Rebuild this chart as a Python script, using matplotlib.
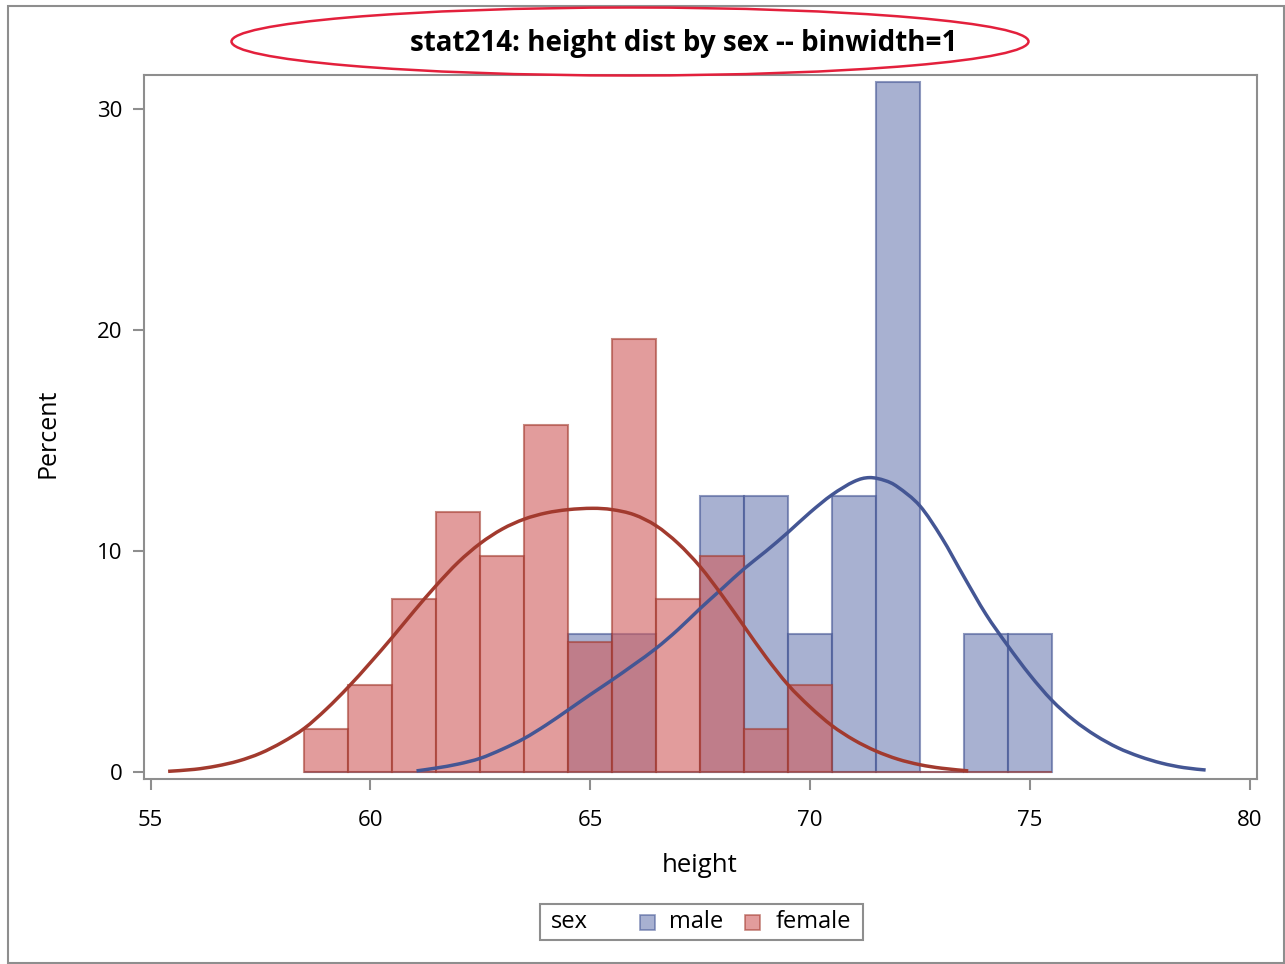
import matplotlib
matplotlib.use("Agg")
import matplotlib.pyplot as plt
from matplotlib.patches import Rectangle, Ellipse, PathPatch
from matplotlib.path import Path

# bin centres (binwidth = 1) and percent per bin
bin_mid = [59, 60, 61, 62, 63, 64, 65, 66, 67, 68, 69, 70, 71, 72, 73, 74, 75]
male_pct = [0, 0, 0, 0, 0, 0, 6.25, 6.25, 0, 12.5, 12.5, 6.25, 12.5, 31.25, 0, 6.25, 6.25]
female_pct = [1.96, 3.92, 7.84, 11.76, 9.80, 15.69, 5.88, 19.61, 7.84, 9.80, 1.96, 3.92, 0, 0, 0, 0, 0]

# density curves (percent scale)
male_x = [61.05, 61.5, 62.0, 62.5, 63.0, 63.5, 64.0, 64.5, 65.0, 65.5, 66.0, 66.5, 67.0, 67.5,
          68.0, 68.5, 69.0, 69.5, 70.0, 70.5, 71.0, 71.35, 71.7, 72.0, 72.5, 73.0, 73.5, 74.0,
          74.5, 75.0, 75.5, 76.0, 76.5, 77.0, 77.5, 78.0, 78.5, 79.0]
male_y = [0.05, 0.18, 0.36, 0.62, 1.03, 1.52, 2.13, 2.81, 3.5, 4.17, 4.87, 5.6, 6.45, 7.4,
          8.3, 9.2, 10.0, 10.85, 11.75, 12.55, 13.15, 13.33, 13.2, 12.9, 12.05, 10.6, 8.85, 7.15,
          5.72, 4.4, 3.25, 2.35, 1.65, 1.1, 0.7, 0.4, 0.2, 0.09]
female_x = [55.4, 56.0, 56.5, 57.0, 57.5, 58.0, 58.5, 59.0, 59.5, 60.0, 60.5, 61.0, 61.5, 62.0,
            62.5, 63.0, 63.5, 64.0, 64.5, 65.05, 65.5, 66.0, 66.5, 67.0, 67.5, 68.0, 68.5, 69.0,
            69.5, 70.0, 70.5, 71.0, 71.5, 72.0, 72.5, 73.0, 73.6]
female_y = [0.03, 0.12, 0.27, 0.5, 0.85, 1.35, 1.98, 2.85, 3.85, 4.95, 6.1, 7.3, 8.45, 9.5,
            10.35, 11.0, 11.45, 11.73, 11.88, 11.94, 11.88, 11.65, 11.15, 10.35, 9.3, 8.0, 6.6, 5.2,
            3.95, 2.95, 2.1, 1.45, 0.95, 0.58, 0.33, 0.17, 0.05]

x_ticks = [55, 60, 65, 70, 75, 80]
y_ticks = [0, 10, 20, 30]

W, H = 1285, 964
GREY = "#8e8e8e"
MALE = "#6f7eb3"
MALE_LINE = "#445694"
FEMALE = "#d05b5b"
FEMALE_LINE = "#a23a2e"
FONT = "Open Sans"


def fx(px):
    return px / W


def fy(py):
    return 1 - py / H


def smooth_path(xs, ys):
    # cubic bezier pieces through every point (catmull-rom tangents)
    pts = list(zip(xs, ys))
    verts = [pts[0]]
    codes = [Path.MOVETO]
    for i in range(len(pts) - 1):
        p0 = pts[max(i - 1, 0)]
        p1 = pts[i]
        p2 = pts[i + 1]
        p3 = pts[min(i + 2, len(pts) - 1)]
        c1 = (p1[0] + (p2[0] - p0[0]) / 6, p1[1] + (p2[1] - p0[1]) / 6)
        c2 = (p2[0] - (p3[0] - p1[0]) / 6, p2[1] - (p3[1] - p1[1]) / 6)
        verts += [c1, c2, p2]
        codes += [Path.CURVE4] * 3
    return Path(verts, codes)


fig = plt.figure(figsize=(W / 100, H / 100), dpi=100)
ax = fig.add_axes([fx(143.5), fy(779), fx(1256.5) - fx(143.5), fy(75) - fy(779)])

ax.bar(bin_mid, male_pct, width=1, color=MALE, alpha=0.6, edgecolor=MALE_LINE, linewidth=1.5, zorder=2)
ax.bar(bin_mid, female_pct, width=1, color=FEMALE, alpha=0.6, edgecolor=FEMALE_LINE, linewidth=1.5, zorder=3)
ax.add_patch(PathPatch(smooth_path(male_x, male_y), fill=False, edgecolor=MALE_LINE, lw=2.5,
                       capstyle="butt", zorder=4))
ax.add_patch(PathPatch(smooth_path(female_x, female_y), fill=False, edgecolor=FEMALE_LINE, lw=2.5,
                       capstyle="butt", zorder=5))

ax.set_xlim(54.84, 80.157)
ax.set_ylim(-0.317, 31.56)
ax.set_xticks(x_ticks)
ax.set_yticks(y_ticks)
for s in ax.spines.values():
    s.set_color(GREY)
    s.set_linewidth(1.5)
ax.tick_params(direction="out", length=8, width=1.5, color=GREY, labelsize=16, labelcolor="black")
ax.tick_params(axis="y", pad=7)
ax.tick_params(axis="x", pad=14)
for lab in ax.get_xticklabels() + ax.get_yticklabels():
    lab.set_fontfamily(FONT)

fig.text(fx(700), fy(865), "height", ha="center", va="center", fontsize=18.5, family=FONT)
fig.text(fx(48), fy(433), "Percent", ha="center", va="center", rotation=90, fontsize=18, family=FONT)

# title with a red ring around it
fig.text(fx(684), fy(44), "stat214: height dist by sex -- binwidth=1", ha="center", va="center",
         fontsize=20, fontweight="bold", family=FONT)
fig.add_artist(Ellipse((fx(630), fy(41.5)), fx(797), 68 / H, transform=fig.transFigure,
                       fill=False, edgecolor="#e3203c", lw=1.8, zorder=10))

# legend
fig.add_artist(Rectangle((fx(540), fy(940)), fx(323), 36 / H, transform=fig.transFigure,
                         fill=False, edgecolor=GREY, lw=1.5))
fig.text(fx(551), fy(922), "sex", ha="left", va="center", fontsize=17, family=FONT)
fig.add_artist(Rectangle((fx(640), fy(930)), fx(15), 15 / H, transform=fig.transFigure,
                         facecolor=MALE, alpha=0.6, edgecolor=MALE_LINE, lw=1.2))
fig.text(fx(669), fy(922), "male", ha="left", va="center", fontsize=17, family=FONT)
fig.add_artist(Rectangle((fx(745), fy(930)), fx(15), 15 / H, transform=fig.transFigure,
                         facecolor=FEMALE, alpha=0.6, edgecolor=FEMALE_LINE, lw=1.2))
fig.text(fx(776), fy(922), "female", ha="left", va="center", fontsize=17, family=FONT)

# outer border
fig.add_artist(Rectangle((fx(7.5), fy(962.5)), fx(1276), 957 / H, transform=fig.transFigure,
                         fill=False, edgecolor=GREY, lw=1.5))

fig.savefig("out.png", dpi=100)
